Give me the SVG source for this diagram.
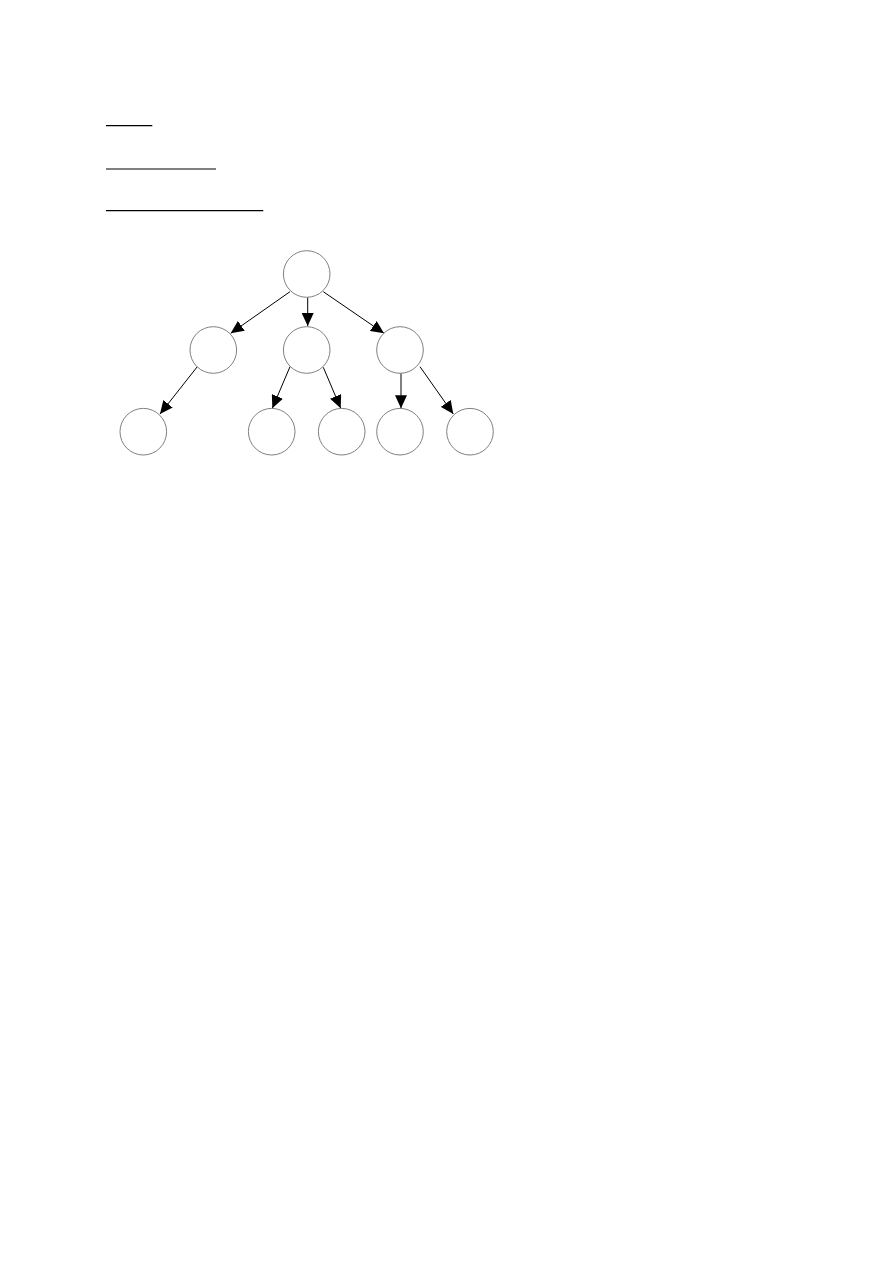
<svg xmlns="http://www.w3.org/2000/svg" width="893" height="1263" viewBox="0 0 893 1263">
<style>
.node{fill:#fff;stroke:#808080;stroke-width:1}
.edge{stroke:#000;stroke-width:1;fill:none}
.rule{stroke:#000;stroke-width:1.2}
</style>
<defs>
<marker id="arr" markerUnits="userSpaceOnUse" markerWidth="13" markerHeight="12" viewBox="0 0 13 12" refX="13" refY="6" orient="auto">
<path d="M0,0 L13,6 L0,12 Z" fill="#000"/>
</marker>
</defs>
<rect width="893" height="1263" fill="#fff"/>
<g id="rules">
<line class="rule" x1="106" y1="125.7" x2="152.3" y2="125.7"/>
<line class="rule" x1="106" y1="169" x2="216" y2="169"/>
<line class="rule" x1="106" y1="210.7" x2="263.3" y2="210.7"/>
</g>
<g id="connectors">
<line class="edge" x1="290" y1="291.7" x2="230.7" y2="333.3" marker-end="url(#arr)"/>
<line class="edge" x1="307.7" y1="297.3" x2="307.7" y2="326" marker-end="url(#arr)"/>
<line class="edge" x1="323.3" y1="291.7" x2="384" y2="333.3" marker-end="url(#arr)"/>
<line class="edge" x1="197.3" y1="366.7" x2="160" y2="414" marker-end="url(#arr)"/>
<line class="edge" x1="290" y1="366.7" x2="272.3" y2="408.3" marker-end="url(#arr)"/>
<line class="edge" x1="323.3" y1="367.3" x2="340.7" y2="408.3" marker-end="url(#arr)"/>
<line class="edge" x1="401" y1="373.3" x2="401" y2="408.3" marker-end="url(#arr)"/>
<line class="edge" x1="420" y1="366.7" x2="453.3" y2="414" marker-end="url(#arr)"/>
</g>
<g id="n0"><circle class="node" cx="306.7" cy="274" r="23.3"/></g>
<g id="n1"><circle class="node" cx="213.3" cy="350" r="23.3"/></g>
<g id="n2"><circle class="node" cx="306.7" cy="350" r="23.3"/></g>
<g id="n3"><circle class="node" cx="400" cy="350" r="23.3"/></g>
<g id="n4"><circle class="node" cx="143.3" cy="431.7" r="23.3"/></g>
<g id="n5"><circle class="node" cx="271.7" cy="431.7" r="23.3"/></g>
<g id="n6"><circle class="node" cx="341.7" cy="431.7" r="23.3"/></g>
<g id="n7"><circle class="node" cx="400" cy="431.7" r="23.3"/></g>
<g id="n8"><circle class="node" cx="470" cy="431.7" r="23.3"/></g>
</svg>
